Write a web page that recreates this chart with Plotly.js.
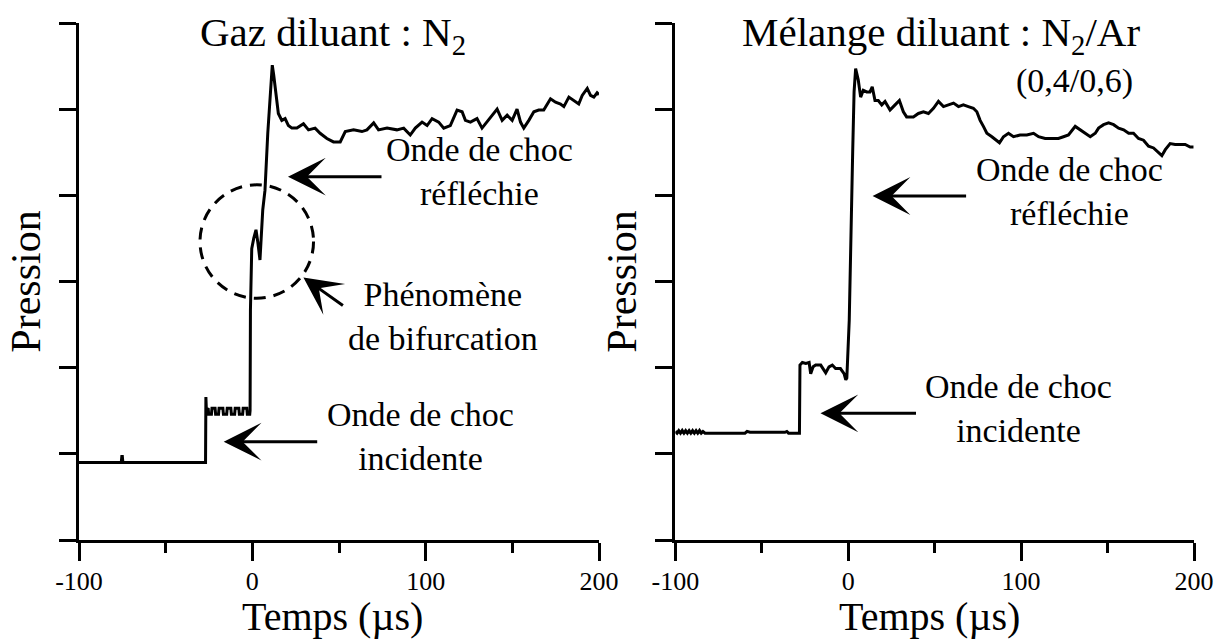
<!DOCTYPE html>
<html>
<head>
<meta charset="utf-8">
<script src="https://cdn.plot.ly/plotly-3.0.1.min.js"></script>
<style>
  html, body { margin: 0; padding: 0; background: #ffffff; }
  #chart { width: 1216px; height: 641px; }
</style>
</head>
<body>
<div id="chart"></div>
<script>
// ---- Data (arbitrary pressure units) ----
// Left panel: diluent N2
const timeN2 = [
  -100, -75.6, -75.3, -75.0, -74.7, -27.0, -26.8, -26.5, -25.5, -25.2,
  -23.6, -23.3, -21.5, -21.2, -19.5, -19.2, -17.0, -16.7, -14.8, -14.5,
  -12.4, -12.1, -10.2, -9.9, -7.8, -7.5, -5.6, -5.3, -3.2, -2.9,
  -1.5, -1.3, -1.1, -0.35, 0.8, 2.1, 3.2, 4.4, 6.0, 7.3,
  8.9, 10.5, 11.5, 12.3, 13.1, 15.0, 17.0, 18.9, 20.8, 22.8,
  25.7, 29.5, 32.4, 36.2, 39.1, 43.0, 46.8, 50.7, 53.6, 58.4,
  63.2, 66.1, 70.0, 72.8, 77.7, 83.4, 87.3, 91.1, 94.0, 97.9,
  100.8, 103.7, 107.5, 110.4, 114.2, 118.1, 121.0, 122.9, 125.8, 129.6,
  132.5, 135.4, 138.3, 141.2, 144.1, 147.0, 149.9, 152.7, 154.7, 156.6,
  159.5, 162.4, 165.2, 168.1, 172.0, 174.9, 177.8, 179.7, 182.6, 185.5,
  188.3, 190.3, 193.2, 195.1, 197.0, 198.9, 200.0
];
const pressureN2 = [
  0.90, 0.90, 0.97, 0.97, 0.90, 0.90, 1.66, 1.50, 1.53, 1.46,
  1.46, 1.53, 1.53, 1.46, 1.46, 1.53, 1.53, 1.46, 1.46, 1.53,
  1.53, 1.46, 1.46, 1.53, 1.53, 1.46, 1.46, 1.53, 1.53, 1.46,
  1.46, 1.50, 2.67, 3.38, 3.50, 3.60, 3.45, 3.25, 3.83, 4.06,
  4.72, 5.30, 5.51, 5.40, 5.26, 4.95, 4.87, 4.89, 4.81, 4.78,
  4.78, 4.83, 4.76, 4.78, 4.72, 4.66, 4.62, 4.62, 4.74, 4.76,
  4.74, 4.76, 4.84, 4.76, 4.78, 4.76, 4.78, 4.70, 4.78, 4.85,
  4.81, 4.89, 4.85, 4.78, 4.81, 4.99, 4.97, 4.87, 4.85, 4.89,
  4.78, 4.85, 4.93, 5.00, 4.87, 4.93, 4.87, 5.00, 4.85, 4.78,
  4.87, 4.97, 4.99, 4.99, 5.12, 5.08, 5.06, 5.03, 5.14, 5.10,
  5.06, 5.16, 5.24, 5.16, 5.14, 5.19, 5.17
];

// Right panel: diluent mixture N2/Ar (0,4/0,6)
const timeMix = [
  -100, -99, -98, -97, -96, -95, -94, -93, -92, -91,
  -90, -89, -88, -87, -86, -85, -84, -82.8, -59.7, -58.5,
  -56.8, -36.6, -35.5, -34.5, -28.2, -27.9, -26.5, -24.5, -22.6, -21.7,
  -20.3, -18.8, -15.9, -14.3, -13.0, -11.1, -9.2, -7.3, -4.5, -2.4,
  -1.4, -0.8, 0.6, 2.6, 3.4, 4.3, 5.8, 7.2, 8.7, 10.7,
  12.6, 13.9, 15.5, 17.4, 19.4, 21.3, 24.2, 27.1, 29.6, 31.9,
  33.8, 37.7, 40.6, 43.5, 46.4, 49.3, 52.2, 55.1, 58.0, 60.9,
  63.8, 66.6, 69.5, 72.4, 74.4, 76.3, 78.2, 80.2, 83.1, 86.0,
  87.5, 89.8, 92.7, 95.6, 99.4, 103.3, 107.2, 110.1, 113.9, 117.8,
  121.6, 124.5, 127.4, 131.3, 134.2, 137.1, 140.0, 142.9, 144.8, 147.7,
  150.6, 153.5, 156.4, 159.3, 162.2, 165.0, 167.9, 170.8, 173.7, 176.6,
  179.5, 181.4, 183.4, 186.2, 189.1, 192.0, 194.9, 197.8, 199.7
];
const pressureMix = [
  1.26, 1.24, 1.27, 1.24, 1.27, 1.24, 1.27, 1.24, 1.27, 1.24,
  1.27, 1.24, 1.27, 1.24, 1.27, 1.24, 1.26, 1.24, 1.24, 1.26,
  1.25, 1.25, 1.26, 1.24, 1.24, 2.03, 2.06, 2.05, 2.06, 1.93,
  2.01, 2.03, 2.03, 1.98, 1.94, 2.01, 2.03, 1.99, 1.99, 1.93,
  1.86, 1.88, 2.55, 4.51, 5.20, 5.47, 5.34, 5.14, 5.22, 5.20,
  5.20, 5.26, 5.10, 5.10, 5.05, 5.09, 4.99, 5.05, 5.10, 4.97,
  4.91, 4.91, 4.95, 4.97, 4.95, 5.01, 5.09, 5.03, 5.05, 5.07,
  5.03, 5.05, 5.03, 5.01, 4.97, 4.87, 4.80, 4.72, 4.68, 4.64,
  4.61, 4.68, 4.72, 4.68, 4.70, 4.70, 4.72, 4.68, 4.66, 4.66,
  4.66, 4.68, 4.70, 4.80, 4.76, 4.72, 4.68, 4.72, 4.78, 4.82,
  4.84, 4.82, 4.78, 4.76, 4.72, 4.72, 4.66, 4.64, 4.57, 4.55,
  4.49, 4.46, 4.53, 4.60, 4.59, 4.59, 4.59, 4.56, 4.56
];

const xTickVals = [-100, 0, 100, 200];
const xTickText = ['-100', '0', '100', '200'];
const yTickVals = [0, 1, 2, 3, 4, 5, 6];

const titleLeft = 'Gaz diluant : N<sub>2</sub>';
const titleRight = 'Mélange diluant : N<sub>2</sub>/Ar';
const subtitleRight = '(0,4/0,6)';
const xTitle = 'Temps (µs)';
const yTitle = 'Pression';
const labelReflected = 'Onde de choc<br>réfléchie';
const labelIncident = 'Onde de choc<br>incidente';
const labelBifurcation = 'Phénomène<br>de bifurcation';

// ---- Styling ----
const FONT = '"Liberation Serif", "Times New Roman", Times, serif';
const BLACK = '#000000';

const traceLine = { color: BLACK, width: 3 };
const traces = [
  { x: timeN2, y: pressureN2, xaxis: 'x', yaxis: 'y', type: 'scatter', mode: 'lines', line: traceLine, hoverinfo: 'skip', showlegend: false },
  { x: timeMix, y: pressureMix, xaxis: 'x2', yaxis: 'y2', type: 'scatter', mode: 'lines', line: traceLine, hoverinfo: 'skip', showlegend: false }
];

function xAxis(domain, anchor) {
  return {
    domain: domain, anchor: anchor, range: [-100, 200],
    showline: true, linecolor: BLACK, linewidth: 3,
    showgrid: false, zeroline: false,
    ticks: 'outside', ticklen: 18, tickwidth: 3, tickcolor: BLACK,
    tickvals: xTickVals, ticktext: xTickText, ticklabelstandoff: -2,
    tickfont: { family: FONT, size: 26, color: BLACK },
    minor: { dtick: 50, tick0: -100, ticks: 'outside', ticklen: 10, tickwidth: 3, tickcolor: BLACK, showgrid: false }
  };
}
function yAxis(anchor) {
  return {
    domain: [0, 1], anchor: anchor, range: [0, 6],
    showline: true, linecolor: BLACK, linewidth: 3,
    showgrid: false, zeroline: false,
    ticks: 'outside', ticklen: 17, tickwidth: 3, tickcolor: BLACK,
    tickvals: yTickVals, showticklabels: false,
    title: { text: yTitle, font: { family: FONT, size: 42, color: BLACK }, standoff: 6 }
  };
}

function label(text, x, y, size, yanchor) {
  return { xref: 'paper', yref: 'paper', x: x, y: y, text: text, showarrow: false,
           xanchor: 'center', yanchor: yanchor || 'middle', align: 'center',
           font: { family: FONT, size: size || 34, color: BLACK } };
}
function arrow(x, y, ax, ay) {
  return { xref: 'paper', yref: 'paper', x: x, y: y, ax: ax, ay: ay, text: '',
           showarrow: true, arrowhead: 3, arrowsize: 2.1, arrowwidth: 3, arrowcolor: BLACK };
}

const layout = {
  width: 1216, height: 641,
  margin: { l: 79, r: 22, t: 23, b: 101 },
  paper_bgcolor: '#ffffff', plot_bgcolor: '#ffffff',
  font: { family: FONT, color: BLACK },
  showlegend: false,
  xaxis: xAxis([0, 0.4664], 'y'),
  yaxis: yAxis('x'),
  xaxis2: xAxis([0.5348, 1], 'y2'),
  yaxis2: yAxis('x2'),
  shapes: [
    { type: 'circle', xref: 'x', yref: 'y', x0: -30.2, x1: 35.3, y0: 2.806, y1: 4.122,
      line: { color: BLACK, width: 3, dash: '12px,8px' } }
  ],
  annotations: [
    label(titleLeft, 0.2275, 0.9768, 41),
    label(titleRight, 0.7731, 0.9768, 41),
    label(subtitleRight, 0.8926, 0.8878, 34),
    label(xTitle, 0.2275, -0.1954, 40, 'bottom'),
    label(xTitle, 0.7632, -0.1954, 40, 'bottom'),
    label(labelReflected, 0.3596, 0.7118),
    label(labelBifurcation, 0.3262, 0.4319),
    label(labelIncident, 0.3060, 0.1998),
    label(labelReflected, 0.8879, 0.6737),
    label(labelIncident, 0.8426, 0.2553),
    arrow(0.18744, 0.70271, 95, 0),
    arrow(0.20126, 0.50774, 41, 29),
    arrow(0.12978, 0.19014, 95, 0),
    arrow(0.71175, 0.66538, 95, 0),
    arrow(0.66502, 0.24507, 97, 0)
  ]
};

Plotly.newPlot('chart', traces, layout, { staticPlot: true, displayModeBar: false });
</script>
</body>
</html>
